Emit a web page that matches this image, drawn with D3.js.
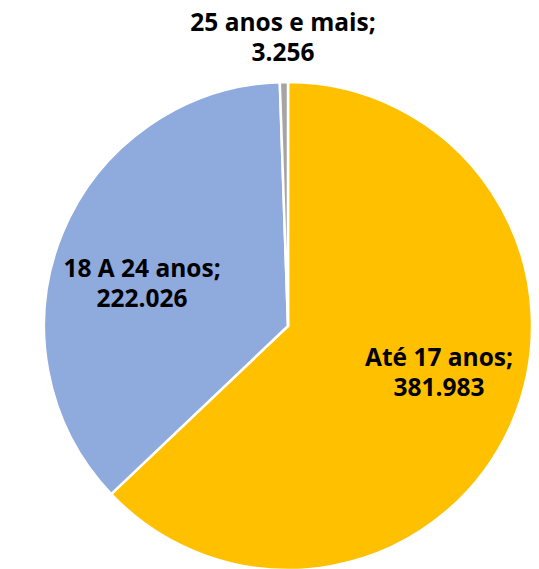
<!DOCTYPE html>
<html lang="pt">
<head>
<meta charset="UTF-8">
<title>Pie</title>
<script src="https://d3js.org/d3.v7.min.js"></script>
<style>
  body { margin: 0; background: #fff; }
</style>
</head>
<body>
<div id="chart"></div>
<script>
const categories = ["Até 17 anos", "18 A 24 anos", "25 anos e mais"];
const values = [381983, 222026, 3256];
const valueLabels = ["381.983", "222.026", "3.256"];
const colors = ["#FFC000", "#8FAADC", "#A5A5A5"];

const width = 539, height = 569;
const cx = 288, cy = 326, radius = 244;

const svg = d3.select("#chart").append("svg")
  .attr("width", width)
  .attr("height", height);

const data = categories.map((c, i) => ({ name: c, value: values[i], label: valueLabels[i], color: colors[i] }));

const pie = d3.pie().sort(null).value(d => d.value);
const arc = d3.arc().innerRadius(0).outerRadius(radius);

const g = svg.append("g").attr("transform", `translate(${cx},${cy})`);

const arcs = pie(data);

g.selectAll("path")
  .data(arcs)
  .join("path")
  .attr("d", arc)
  .attr("fill", d => d.data.color)
  .attr("stroke", "#fff")
  .attr("stroke-width", 2.5)
  .attr("stroke-linejoin", "round");

// label positions (baseline of first line, relative to centre)
const labelPos = [[151, 40], [-146, -49], [-5, -295]];

const labels = g.selectAll("text.lbl")
  .data(arcs)
  .join("text")
  .attr("class", "lbl")
  .attr("text-anchor", "middle")
  .attr("font-family", "'Open Sans', sans-serif")
  .attr("font-weight", "bold")
  .attr("font-size", 24.5)
  .attr("fill", "#000")
  .attr("transform", (d, i) => `translate(${labelPos[i][0]},${labelPos[i][1]})`);

labels.append("tspan")
  .attr("x", 0).attr("dy", 0)
  .text(d => d.data.name + ";");
labels.append("tspan")
  .attr("x", 0).attr("dy", 29.5)
  .text(d => d.data.label);
</script>
</body>
</html>
